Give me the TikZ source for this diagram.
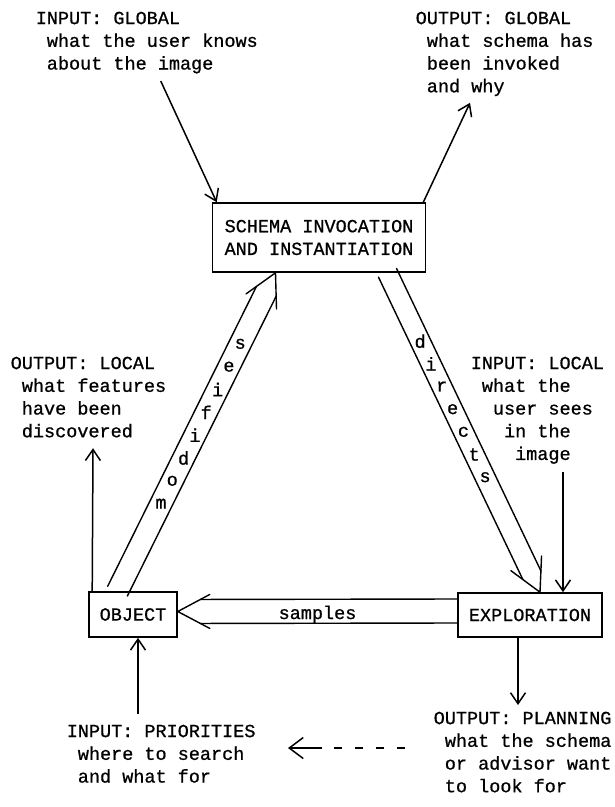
\documentclass[tikz,border=0pt]{standalone}
\usepackage{fontspec}
\newfontfamily\typewr{Liberation Mono}[FakeBold=0.8]
\usetikzlibrary{arrows.meta,calc}

\newcommand*\ind[1][x]{\phantom{#1}}
% open double-lined arrow: base, tip, half width of the shaft
\newcommand{\fatarrow}[3]{%
  \pgfmathsetmacro\neckdist{32*#3/17}
  \coordinate (fa-h) at ($(#2)!32pt!(#1)$);
  \coordinate (fa-n) at ($(#2)!\neckdist pt!(#1)$);
  \draw[fat] ($(#1)!#3pt!90:(#2)$) -- ($(fa-n)!#3pt!90:(#2)$);
  \draw[fat] ($(#1)!#3pt!-90:(#2)$) -- ($(fa-n)!#3pt!-90:(#2)$);
  \draw[fat] ($(fa-h)!17pt!90:(#2)$) -- (#2) -- ($(fa-h)!17pt!-90:(#2)$);
}

\begin{document}
\begin{tikzpicture}[x=1pt, y=-1pt, line width=1.5pt,
    every node/.style={font=\typewr\fontsize{18.5}{22.7}\selectfont},
    box/.style={draw, line width=1.6pt, inner sep=0pt, align=center},
    note/.style={anchor=north west, inner sep=0pt, align=left},
    arr/.style={-{Straight Barb[length=11pt,width=15pt]}},
    fat/.style={line width=1.4pt, line cap=round}
  ]
  \useasboundingbox (0,0) rectangle (615,807);

  % the three modules
  \node[box, minimum width=213pt, minimum height=69pt] (schema) at (319,237.5)
    {SCHEMA INVOCATION\\AND INSTANTIATION};
  \node[box, minimum width=88pt, minimum height=45pt] (object) at (133,614.5) {OBJECT};
  \node[box, minimum width=144pt, minimum height=44pt] (explor) at (530,615) {EXPLORATION};

  % inputs and outputs
  \node[note] (inglobal) at (35,11)
    {INPUT: GLOBAL\\\ind what the user knows\\\ind about the image};
  \node[note] (outglobal) at (415,11)
    {OUTPUT: GLOBAL\\\ind what schema has\\\ind been invoked\\\ind and why};
  \node[note] (outlocal) at (10,356)
    {OUTPUT: LOCAL\\\ind what features\\\ind have been\\\ind discovered};
  \node[note] (inlocal) at (470,356)
    {INPUT: LOCAL\\\ind what the\\\ind[xx]user sees\\\ind[xxx]in the\\\ind[xxxx]image};
  \node[note] (priorities) at (66,724)
    {INPUT: PRIORITIES\\\ind where to search\\\ind and what for};
  \node[note] (planning) at (433,711)
    {OUTPUT: PLANNING\\\ind what the schema\\\ind or advisor want\\\ind to look for};

  \draw[arr] ([xshift=14pt,yshift=-7pt]inglobal.south) -- ([xshift=5pt]schema.north west);
  \draw[arr] ([xshift=-3pt]schema.north east) -- ([xshift=55pt,yshift=-6pt]outglobal.south west);
  \draw[arr] ([xshift=4pt]object.north west) -- ([xshift=83pt,yshift=-10pt]outlocal.south west);
  \draw[arr] ([xshift=93pt,yshift=-7pt]inlocal.south west) -- ([xshift=33pt]explor.north);
  \draw[arr] ([xshift=72pt,yshift=10pt]priorities.north west) -- ([xshift=5pt]object.south);
  \draw[arr] ([xshift=-12pt]explor.south) -- ([xshift=85pt,yshift=6pt]planning.north west);

  \coordinate (planarrow) at (405,748);
  \coordinate (priarrow) at (288,748);
  \draw[-{Straight Barb[length=14pt,width=21pt]},
    dash pattern=on 8pt off 13pt on 8pt off 13pt on 8pt off 13pt on 8pt off 12pt on 60pt]
    (planarrow) -- (priarrow);

  % the big arrows between modules
  \coordinate (modbase) at ([xshift=-15.5pt]object.north);
  \coordinate (modtip) at ([xshift=-43.5pt]schema.south);
  \coordinate (dirbase) at ([xshift=68.5pt]schema.south);
  \coordinate (dirtip) at ([xshift=10pt]explor.north);
  \coordinate (sambase) at ([yshift=4pt]explor.west);
  \coordinate (samtip) at ([yshift=3pt]object.east);
  \fatarrow{modbase}{modtip}{11}
  \fatarrow{dirbase}{dirtip}{10}
  \fatarrow{sambase}{samtip}{12}

  \foreach \ch [count=\i from 0] in {m,o,d,i,f,i,e,s}
    \node (mod\i) at ($(modbase)!{0.275+0.0717*\i}!(modtip)$) {\ch};
  \foreach \ch [count=\i from 0] in {d,i,r,e,c,t,s}
    \node (dir\i) at ($(dirbase)!{0.214+0.071*\i}!(dirtip)$) {\ch};
  \node (samples) at ([yshift=-3pt]$(sambase)!0.5!(samtip)$) {samples};
\end{tikzpicture}
\end{document}
